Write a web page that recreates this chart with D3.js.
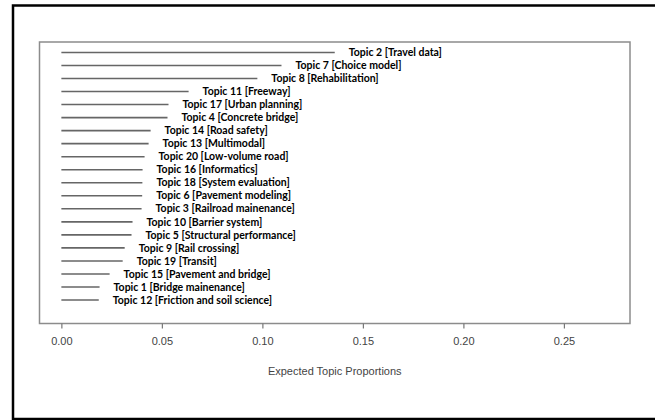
<!DOCTYPE html>
<html>
<head>
<meta charset="utf-8">
<script src="https://cdn.jsdelivr.net/npm/d3@7"></script>
<style>
  body { margin: 0; background: #fff; }
  svg { display: block; }
</style>
</head>
<body>
<svg id="chart" width="655" height="420"></svg>
<script>
// topics listed bottom to top (as drawn by R)
var topics = [
  "Topic 12 [Friction and soil science]",
  "Topic 1 [Bridge mainenance]",
  "Topic 15 [Pavement and bridge]",
  "Topic 19 [Transit]",
  "Topic 9 [Rail crossing]",
  "Topic 5 [Structural performance]",
  "Topic 10 [Barrier system]",
  "Topic 3 [Railroad mainenance]",
  "Topic 6 [Pavement modeling]",
  "Topic 18 [System evaluation]",
  "Topic 16 [Informatics]",
  "Topic 20 [Low-volume road]",
  "Topic 13 [Multimodal]",
  "Topic 14 [Road safety]",
  "Topic 4 [Concrete bridge]",
  "Topic 17 [Urban planning]",
  "Topic 11 [Freeway]",
  "Topic 8 [Rehabilitation]",
  "Topic 7 [Choice model]",
  "Topic 2 [Travel data]"
];
var proportions = [
  0.0186, 0.0190, 0.0240, 0.0305, 0.0315, 0.0349, 0.0354, 0.0399, 0.0402, 0.0403,
  0.0404, 0.0414, 0.0434, 0.0444, 0.0528, 0.0533, 0.0633, 0.0975, 0.1095, 0.1360
];
var tickValues = [0, 0.05, 0.10, 0.15, 0.20, 0.25];
var xTitle = "Expected Topic Proportions";

var svg = d3.select("#chart");

// outer frame (right side runs off the picture)
svg.append("path")
  .attr("d", "M660,5.5H13V419H660")
  .attr("fill", "none")
  .attr("stroke", "#000")
  .attr("stroke-width", 2.5);

var box = { left: 39.5, right: 630, top: 42, bottom: 323.5 };
var xMax = d3.max(proportions) * 2;
var x = d3.scaleLinear()
  .domain([-0.04 * xMax, 1.04 * xMax])
  .range([box.left, box.right]);
var K = topics.length;
var y = d3.scaleLinear()
  .domain([-0.04 * K, 1.04 * K])
  .range([box.bottom, box.top]);

svg.append("rect")
  .attr("x", box.left).attr("y", box.top)
  .attr("width", box.right - box.left)
  .attr("height", box.bottom - box.top)
  .attr("fill", "none")
  .attr("stroke", "#8c8c8c")
  .attr("stroke-width", 1.5);

var rows = svg.append("g").selectAll("g")
  .data(topics)
  .enter().append("g");

rows.append("line")
  .attr("x1", x(0))
  .attr("x2", function(d, i) { return x(proportions[i]); })
  .attr("y1", function(d, i) { return y(i + 1); })
  .attr("y2", function(d, i) { return y(i + 1); })
  .attr("stroke", "#666")
  .attr("stroke-width", 1.6);

rows.append("text")
  .attr("x", function(d, i) { return x(proportions[i]) + 14; })
  .attr("y", function(d, i) { return y(i + 1); })
  .attr("dy", "0.35em")
  .attr("font-family", "Lato, 'Open Sans', sans-serif")
  .attr("font-weight", "bold")
  .attr("font-size", 10.5)
  .attr("fill", "#000")
  .text(function(d) { return d; });

var axis = d3.axisBottom(x)
  .tickValues(tickValues)
  .tickFormat(d3.format(".2f"))
  .tickSize(5)
  .tickPadding(9);

var gx = svg.append("g")
  .attr("transform", "translate(0," + box.bottom + ")")
  .call(axis);
gx.select(".domain").remove();
gx.selectAll(".tick line").attr("stroke", "#777").attr("stroke-width", 1.2);
gx.selectAll(".tick text")
  .attr("fill", "#444")
  .attr("font-family", "'Liberation Sans', Arial, sans-serif")
  .attr("font-size", 11);

svg.append("text")
  .attr("x", (box.left + box.right) / 2)
  .attr("y", 375)
  .attr("text-anchor", "middle")
  .attr("fill", "#444")
  .attr("font-family", "'Liberation Sans', Arial, sans-serif")
  .attr("font-size", 11)
  .text(xTitle);
</script>
</body>
</html>
